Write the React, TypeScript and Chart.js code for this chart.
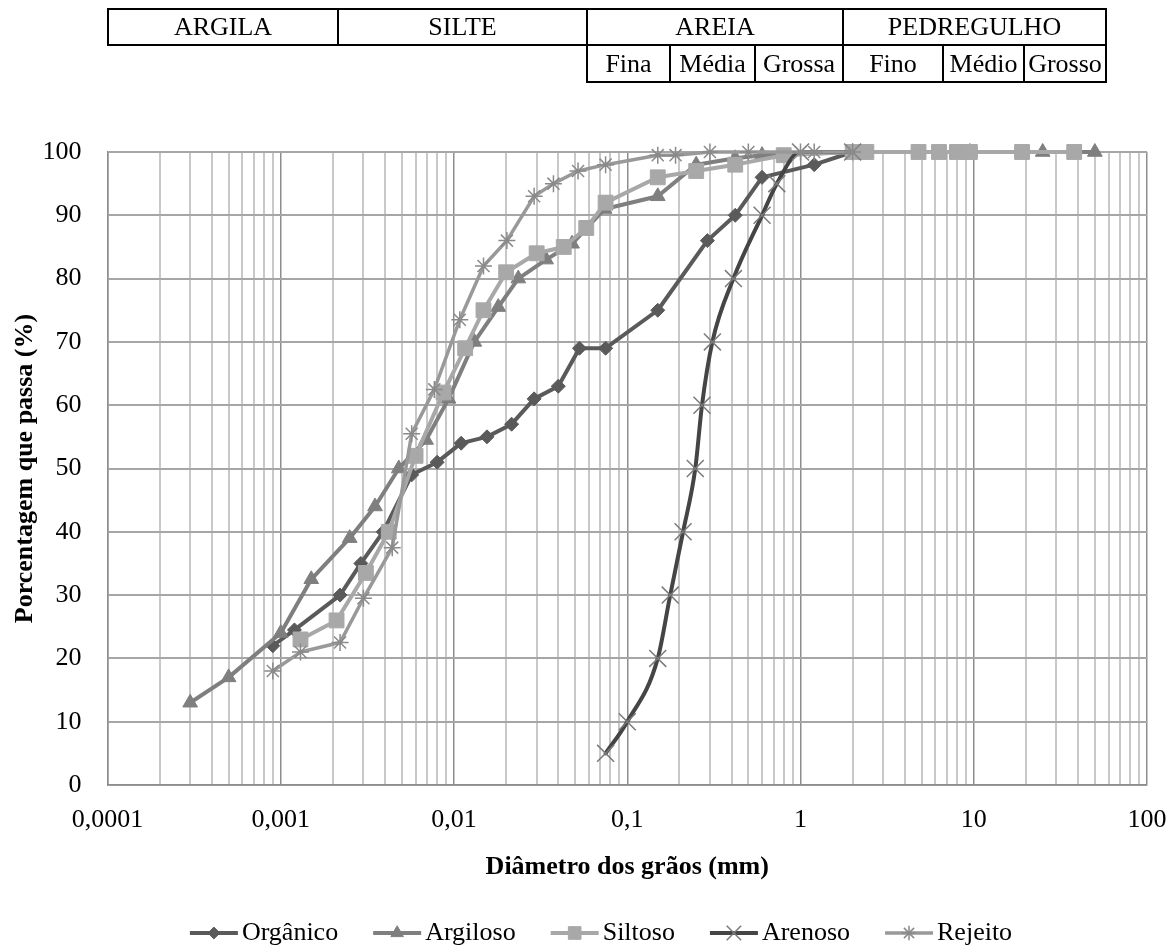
import React, { useEffect, useRef } from 'react';
import { Chart, registerables } from 'chart.js';

Chart.register(...registerables);

const SERIF = "'Liberation Serif', 'Times New Roman', serif";

// Axis ticks
const X_DECADES = [0.0001, 0.001, 0.01, 0.1, 1, 10, 100];
const X_TICK_LABELS = ['0,0001', '0,001', '0,01', '0,1', '1', '10', '100'];
const MINOR_MULTIPLIERS = [2, 3, 4, 5, 6, 7, 8, 9];

// Series
const SERIES_NAMES = ['Orgânico', 'Argiloso', 'Siltoso', 'Arenoso', 'Rejeito'];

const ORGANICO_D = [0.0009, 0.0012, 0.0022, 0.0029, 0.0039, 0.0057, 0.008, 0.011, 0.0155, 0.0215, 0.029, 0.04, 0.053, 0.075, 0.15, 0.29, 0.42, 0.6, 1.2, 2];
const ORGANICO_P = [22, 24.5, 30, 35, 40, 49, 51, 54, 55, 57, 61, 63, 69, 69, 75, 86, 90, 96, 98, 100];

const ARGILOSO_D = [0.0003, 0.0005, 0.001, 0.0015, 0.0025, 0.0035, 0.0048, 0.0069, 0.0093, 0.0131, 0.018, 0.0235, 0.034, 0.048, 0.074, 0.15, 0.25, 0.42, 0.6, 2, 9.5, 25, 50];
const ARGILOSO_P = [13, 17, 24, 32.5, 39, 44, 50, 54.5, 61, 70, 75.5, 80, 83, 85.5, 91, 93, 98, 99, 99.5, 100, 100, 100, 100];

const SILTOSO_D = [0.0013, 0.0021, 0.0031, 0.0042, 0.006, 0.0087, 0.0116, 0.0148, 0.02, 0.03, 0.043, 0.058, 0.075, 0.15, 0.25, 0.42, 0.8, 2, 2.4, 4.8, 6.3, 8, 9.5, 19, 38];
const SILTOSO_P = [23, 26, 33.5, 40, 52, 62, 69, 75, 81, 84, 85, 88, 92, 96, 97, 98, 99.5, 100, 100, 100, 100, 100, 100, 100, 100];

const ARENOSO_D = [0.075, 0.1, 0.15, 0.177, 0.21, 0.247, 0.27, 0.31, 0.41, 0.6, 0.73, 1.0, 2];
const ARENOSO_P = [5, 10, 20, 30, 40, 50, 60, 70, 80, 90, 95, 100, 100];

const REJEITO_D = [0.0009, 0.0013, 0.0022, 0.003, 0.0044, 0.0057, 0.0077, 0.0108, 0.0148, 0.0202, 0.029, 0.0375, 0.052, 0.075, 0.15, 0.19, 0.3, 0.5, 1.0, 1.2, 2];
const REJEITO_P = [18, 21, 22.5, 29.5, 37.5, 55.5, 62.5, 73.5, 82, 86, 93, 95, 97, 98, 99.5, 99.5, 100, 100, 100, 100, 100];

// Header table
const TABLE_ROW1 = [
  { l: 108, r: 338, t: 'ARGILA' },
  { l: 338, r: 587, t: 'SILTE' },
  { l: 587, r: 843, t: 'AREIA' },
  { l: 843, r: 1106, t: 'PEDREGULHO' },
];
const TABLE_ROW2 = [
  { l: 587, r: 670, t: 'Fina' },
  { l: 670, r: 755, t: 'Média' },
  { l: 755, r: 843, t: 'Grossa' },
  { l: 843, r: 943, t: 'Fino' },
  { l: 943, r: 1024, t: 'Médio' },
  { l: 1024, r: 1106, t: 'Grosso' },
];

const STYLES = [
  { color: '#5a5a5a', point: 'rectRot', radius: 7, pcolor: '#5a5a5a', pborder: 1, mono: false, lw: 4 },
  { color: '#7f7f7f', point: 'triangle', radius: 8.5, pcolor: '#7f7f7f', pborder: 1, mono: false, lw: 4 },
  { color: '#a8a8a8', point: 'rect', radius: 10.5, pcolor: '#a8a8a8', pborder: 1, mono: false, lw: 4 },
  { color: '#454545', point: 'crossRot', radius: 12, pcolor: '#7a7a7a', pborder: 1.5, mono: true, lw: 4 },
  { color: '#999999', point: 'star', radius: 8.5, pcolor: '#8a8a8a', pborder: 1.5, mono: false, lw: 3.5 },
];

const SERIES_D = [ORGANICO_D, ARGILOSO_D, SILTOSO_D, ARENOSO_D, REJEITO_D];
const SERIES_P = [ORGANICO_P, ARGILOSO_P, SILTOSO_P, ARENOSO_P, REJEITO_P];

function isDecade(v: number) {
  const l = Math.log10(v);
  return Math.abs(l - Math.round(l)) < 1e-6;
}

function decadeLabel(v: number) {
  for (let i = 0; i < X_DECADES.length; i++) {
    if (Math.abs(Math.log10(v) - Math.log10(X_DECADES[i])) < 1e-6) return X_TICK_LABELS[i];
  }
  return '';
}

function drawMarker(ctx: CanvasRenderingContext2D, style: string, x: number, y: number, r: number, fill: string, stroke: string, bw: number) {
  ctx.save();
  ctx.fillStyle = fill;
  ctx.strokeStyle = stroke;
  ctx.lineWidth = bw;
  ctx.beginPath();
  if (style === 'rectRot') {
    ctx.moveTo(x - r, y); ctx.lineTo(x, y - r); ctx.lineTo(x + r, y); ctx.lineTo(x, y + r); ctx.closePath();
    ctx.fill(); ctx.stroke();
  } else if (style === 'triangle') {
    ctx.moveTo(x, y - r); ctx.lineTo(x + 0.866 * r, y + 0.5 * r); ctx.lineTo(x - 0.866 * r, y + 0.5 * r); ctx.closePath();
    ctx.fill(); ctx.stroke();
  } else if (style === 'rect') {
    const s = r * Math.SQRT1_2;
    ctx.rect(x - s, y - s, 2 * s, 2 * s);
    ctx.fill(); ctx.stroke();
  } else if (style === 'crossRot') {
    const s = r * Math.SQRT1_2;
    ctx.moveTo(x - s, y - s); ctx.lineTo(x + s, y + s);
    ctx.moveTo(x - s, y + s); ctx.lineTo(x + s, y - s);
    ctx.stroke();
  } else if (style === 'star') {
    const s = r * Math.SQRT1_2;
    ctx.moveTo(x - s, y - s); ctx.lineTo(x + s, y + s);
    ctx.moveTo(x - s, y + s); ctx.lineTo(x + s, y - s);
    ctx.moveTo(x, y - r); ctx.lineTo(x, y + r);
    ctx.moveTo(x - r, y); ctx.lineTo(x + r, y);
    ctx.stroke();
  }
  ctx.restore();
}

const legendPlugin = {
  id: 'customLegend',
  afterDraw(chart: any) {
    const ctx: CanvasRenderingContext2D = chart.ctx;
    ctx.save();
    ctx.font = `26px ${SERIF}`;
    const lineLen = 48;
    const textGap = 4;
    const itemGap = 35;
    const widths = SERIES_NAMES.map((n) => ctx.measureText(n).width);
    const total = widths.reduce((a, w) => a + lineLen + textGap + w, 0) + itemGap * (SERIES_NAMES.length - 1);
    let x = 601 - total / 2;
    const y = 933;
    SERIES_NAMES.forEach((name, i) => {
      const st = STYLES[i];
      ctx.strokeStyle = st.color;
      ctx.lineWidth = st.lw;
      ctx.beginPath();
      ctx.moveTo(x, y);
      ctx.lineTo(x + lineLen, y);
      ctx.stroke();
      drawMarker(ctx, st.point, x + lineLen / 2, y, st.radius * 0.85, st.pcolor, st.pcolor, st.pborder);
      ctx.fillStyle = '#000';
      ctx.textAlign = 'left';
      ctx.textBaseline = 'middle';
      ctx.fillText(name, x + lineLen + textGap, y);
      x += lineLen + textGap + widths[i] + itemGap;
    });
    ctx.restore();
  },
};

export default function App() {
  const canvasRef = useRef<HTMLCanvasElement | null>(null);

  useEffect(() => {
    const canvas = canvasRef.current;
    if (!canvas) return;

    const allTicks: number[] = [];
    X_DECADES.forEach((d, i) => {
      allTicks.push(d);
      if (i < X_DECADES.length - 1) MINOR_MULTIPLIERS.forEach((m) => allTicks.push(d * m));
    });

    const datasets = SERIES_NAMES.map((name, i) => {
      const st = STYLES[i];
      return {
        label: name,
        data: SERIES_D[i].map((d, j) => ({ x: d, y: SERIES_P[i][j] })),
        borderColor: st.color,
        backgroundColor: st.pcolor,
        borderWidth: st.lw,
        pointStyle: st.point,
        pointRadius: st.radius,
        pointBackgroundColor: st.pcolor,
        pointBorderColor: st.pcolor,
        pointBorderWidth: st.pborder,
        cubicInterpolationMode: st.mono ? 'monotone' : 'default',
        tension: st.mono ? 0.4 : 0,
        fill: false,
        clip: false,
        order: SERIES_NAMES.length - i,
      };
    });

    const chart = new Chart(canvas, {
      type: 'line',
      data: { datasets: datasets as any },
      options: {
        animation: false,
        responsive: false,
        maintainAspectRatio: false,
        devicePixelRatio: 1,
        layout: { padding: { top: 152, left: 0, right: 26, bottom: 64 } },
        plugins: { legend: { display: false }, tooltip: { enabled: false }, title: { display: false } },
        elements: { line: { borderJoinStyle: 'round', borderCapStyle: 'round' } },
        scales: {
          x: {
            type: 'logarithmic',
            position: 'bottom',
            min: 0.0001,
            max: 100,
            afterBuildTicks: (s: any) => {
              s.ticks = allTicks.map((v) => ({ value: v, major: isDecade(v) }));
            },
            afterFit: (s: any) => {
              s.height = 98;
              s.paddingLeft = 0;
              s.paddingRight = 0;
            },
            ticks: {
              autoSkip: false,
              maxRotation: 0,
              minRotation: 0,
              padding: 20,
              color: '#000',
              font: { family: SERIF, size: 26 },
              callback: (v: any) => decadeLabel(Number(v)),
            },
            grid: {
              drawTicks: false,
              color: (c: any) => (c.tick && isDecade(c.tick.value) ? '#8e8e8e' : '#c8c8c8'),
              lineWidth: (c: any) => (c.tick && isDecade(c.tick.value) ? 1.5 : 2),
            },
            border: { color: '#8e8e8e', width: 1.5 },
            title: {
              display: true,
              text: 'Diâmetro dos grãos (mm)',
              color: '#000',
              font: { family: SERIF, size: 26, weight: 'bold' },
              padding: 0,
            },
          },
          y: {
            type: 'linear',
            min: 0,
            max: 100,
            afterFit: (s: any) => {
              s.width = 107.5;
              s.paddingTop = 0;
              s.paddingBottom = 0;
            },
            ticks: {
              stepSize: 10,
              padding: 26,
              color: '#000',
              font: { family: SERIF, size: 26 },
            },
            grid: { drawTicks: false, color: '#a6a6a6', lineWidth: 2 },
            border: { color: '#8e8e8e', width: 1.5 },
            title: {
              display: true,
              text: 'Porcentagem que passa (%)',
              color: '#000',
              font: { family: SERIF, size: 26, weight: 'bold' },
              padding: { top: 10, bottom: 0 },
            },
          },
        },
      } as any,
      plugins: [legendPlugin],
    });

    return () => chart.destroy();
  }, []);

  const cell = (c: { l: number; r: number; t: string }, top: number, h: number, key: string) => (
    <div
      key={key}
      style={{
        position: 'absolute',
        left: c.l - 1,
        top: top - 1,
        width: c.r - c.l + 2,
        height: h + 2,
        border: '2px solid #000',
        boxSizing: 'border-box',
        fontFamily: SERIF,
        fontSize: 26,
        lineHeight: `${h - 2}px`,
        textAlign: 'center',
        whiteSpace: 'nowrap',
        color: '#000',
      }}
    >
      {c.t}
    </div>
  );

  return (
    <div style={{ position: 'fixed', left: 0, top: 0, width: 1173, height: 947, background: '#fff', overflow: 'hidden' }}>
      <canvas ref={canvasRef} width={1173} height={947} style={{ position: 'absolute', left: 0, top: 0, width: 1173, height: 947 }} />
      {TABLE_ROW1.map((c, i) => cell(c, 9, 36, 'r1' + i))}
      {TABLE_ROW2.map((c, i) => cell(c, 45, 37, 'r2' + i))}
    </div>
  );
}
